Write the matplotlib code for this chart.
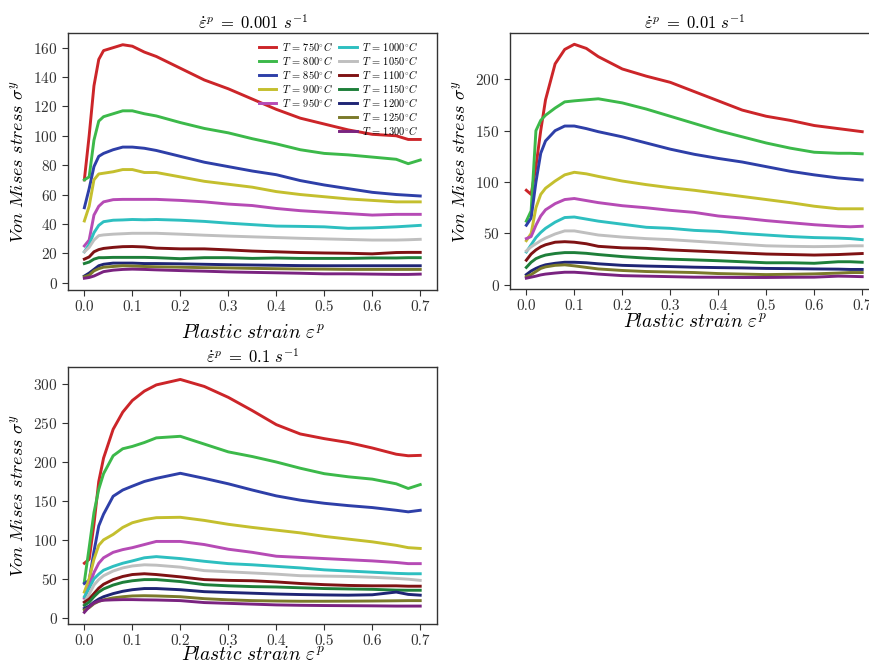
import matplotlib
matplotlib.use("Agg")
import matplotlib.pyplot as plt
from matplotlib.lines import Line2D

plt.rcParams["font.family"] = "serif"
plt.rcParams["font.serif"] = ["cmr10"]
plt.rcParams["mathtext.fontset"] = "cm"
plt.rcParams["axes.formatter.use_mathtext"] = True

# strain grid shared by all curves
STRAIN = [0, 0.01, 0.02, 0.03, 0.04, 0.06, 0.08, 0.1, 0.125, 0.15, 0.2, 0.25,
          0.3, 0.35, 0.4, 0.45, 0.5, 0.55, 0.6, 0.65, 0.675, 0.7]

TEMPS = [750, 800, 850, 900, 950, 1000, 1050, 1100, 1150, 1200, 1250, 1300]

# rate 0.001 1/s
STRESS_001 = [
    [70, 100, 134, 152, 158, 160, 162, 161, 157, 154, 146, 138, 132, 125, 118, 112, 108, 104, 101, 100, 97.5, 97.5],
    [70, 72, 97, 110, 113, 115, 117, 117, 115, 113.5, 109, 105, 102, 98, 94.5, 90.5, 88, 87, 85.5, 84, 81, 83.5],
    [51, 64, 79, 86, 88, 90.5, 92.3, 92.3, 91.5, 90, 86, 82, 79, 76, 73.5, 69.5, 66.5, 64, 61.5, 60, 59.5, 59],
    [42, 52, 70, 74, 74.5, 75.5, 77, 77, 75, 75, 72, 69, 67, 65, 62, 60, 58.5, 57, 56, 55, 55, 55],
    [25, 29, 46, 52, 55, 56.5, 56.7, 56.7, 56.7, 56.7, 56, 55, 53.5, 52.5, 50.5, 49, 48, 47, 46, 46.5, 46.5, 46.5],
    [21, 26, 34, 39, 41.5, 42.5, 42.7, 43, 42.8, 43, 42.5, 41.7, 40.5, 39.5, 38.5, 38.3, 38, 37, 37.3, 38, 38.5, 39],
    [21, 24, 29, 32, 32.5, 33, 33.3, 33.6, 33.6, 33.6, 33, 32.3, 31.7, 31.2, 30.7, 30.2, 29.8, 29.4, 29, 29, 29.2, 29.5],
    [16, 17.5, 21, 22.5, 23.3, 24, 24.5, 24.6, 24.3, 23.5, 23, 23, 22.3, 21.5, 21, 20.5, 20.2, 20, 19.6, 20.5, 20.6, 20.6],
    [13, 14, 16, 17, 17, 17.2, 17.2, 17.2, 17.2, 17, 16.3, 17, 17, 16.5, 16.8, 16.5, 16.5, 16.5, 16.8, 16.8, 17, 17],
    [4.5, 6.5, 9, 11.5, 12.5, 13.3, 13.3, 13.3, 13, 13, 12.8, 12.5, 12.2, 12, 11.8, 11.6, 11.5, 11.5, 11.5, 11.5, 11.5, 11.5],
    [4, 5, 8, 9.5, 10.5, 11, 11.5, 11.3, 11, 10.8, 10.5, 10.2, 10, 9.7, 9.5, 9.3, 9.2, 9, 9, 9, 9, 9],
    [3, 3.5, 4.5, 6, 7.5, 8.5, 9, 9.2, 9, 8.7, 8.2, 7.8, 7.3, 7, 6.7, 6.4, 6, 6, 5.8, 5.6, 5.6, 5.8],
]

# rate 0.01 1/s
STRESS_01 = [
    [92, 88, 115, 150, 180, 215, 229, 234, 230, 222, 210, 203, 197, 188, 179, 170, 164, 160, 155, 152, 150.5, 149],
    [62, 72, 150, 160, 165, 172, 178, 179, 180, 181, 177, 171, 164, 157, 150, 144, 138, 133, 129, 128, 128, 127.5],
    [58, 65, 100, 128, 140, 150, 154.5, 154.5, 152, 149, 144, 138, 132, 127, 123, 119.5, 115, 110.5, 107, 104, 103, 102],
    [43, 50, 75, 88, 94, 101, 107, 109.5, 108, 105.5, 101, 97.5, 94.5, 92, 89, 86, 83, 80, 76.5, 74, 74, 74],
    [45, 47, 58, 67, 73, 79, 83, 84, 82, 80, 77, 75, 72.5, 70.5, 67, 65, 62.5, 60.5, 58.5, 57, 56.5, 57],
    [32, 39, 46, 51, 55, 61, 65.5, 66, 64, 62, 59, 56, 55, 53, 52, 50, 48.5, 47, 46, 45.5, 45, 44],
    [33, 37, 40, 43, 45.5, 49.5, 52.5, 52.5, 50.5, 48.5, 46.5, 45, 44, 42.5, 41, 39.5, 38, 37.5, 37.2, 37.5, 38, 38],
    [24, 30, 34, 37, 39, 41.5, 42, 41.5, 40, 37.5, 36, 35.5, 34, 33, 32, 31, 30, 29.5, 29, 29.5, 30, 30.5],
    [17, 22, 25.5, 27.5, 29, 30.5, 31.4, 31.4, 30.7, 29.5, 27.5, 26, 25, 24.3, 23.5, 22.5, 21.5, 21.5, 21, 22.5, 22.5, 22],
    [10, 13.5, 16, 18, 19.5, 21, 22, 22, 21.5, 20.5, 19, 18.3, 17.8, 17.2, 16.8, 16.5, 16, 15.8, 15.5, 15.3, 15, 15],
    [8, 10, 13, 16, 17.5, 19, 19.5, 18.5, 17, 15.5, 14, 13, 12.5, 12, 11, 10.5, 10, 10.3, 10.7, 11.5, 12, 12],
    [6.5, 7.5, 8.5, 9.7, 10.5, 11.5, 12.3, 12.3, 11.5, 10.5, 9, 8.5, 8, 7.5, 7.4, 7.2, 7.2, 7.4, 7.5, 8.5, 8.3, 8],
]

# rate 0.1 1/s
STRESS_1 = [
    [70, 75, 120, 175, 205, 242, 264, 279, 291, 299, 306, 297, 283, 266, 248, 236, 230, 225, 218, 210, 208, 208.5],
    [46, 90, 135, 165, 185, 208, 217, 220, 225, 231, 233, 223, 213, 207, 200, 192, 185, 181, 178, 172, 166, 171],
    [44, 48, 85, 118, 133, 156, 164, 169, 175, 179, 185.5, 179, 172, 164, 156.5, 151, 147, 144, 141.5, 138, 136, 138],
    [33, 50, 75, 93, 100, 107, 116, 122, 126, 128.5, 129, 125, 120, 116, 112.5, 109, 104.5, 101, 97.5, 93, 90, 89],
    [25, 40, 58, 70, 77, 84, 87.5, 90, 94, 98, 98, 94, 88, 84, 79, 77.5, 76, 74.5, 73, 71, 69.5, 69.5],
    [27, 38, 50, 56, 61, 66, 70, 73, 77, 78.5, 76, 72.5, 69.5, 68, 66, 64, 61.5, 60, 58.5, 57, 56.5, 56.5],
    [20, 30, 42, 49, 54, 60, 64, 66.5, 68, 67.5, 65, 60.5, 59, 57.5, 56, 54, 53.5, 53, 52, 50.5, 49.5, 48],
    [20, 24, 31, 38, 43, 49, 53, 55.5, 56.5, 55.5, 52.5, 49, 48, 47.5, 46, 44, 42.5, 41.5, 41, 41, 40.5, 40.5],
    [16, 20, 27, 33, 37, 42, 45.5, 47.5, 49, 49, 46.5, 42.5, 41, 40, 39.5, 38.5, 37.5, 37, 36.5, 35.5, 35.3, 35.3],
    [12, 15, 20, 24, 27, 31, 34, 36, 37.5, 37.5, 36, 33.5, 32.5, 31.5, 30.5, 29.8, 29.3, 29, 29.5, 33, 30, 29],
    [10, 13, 18, 21, 23, 25.5, 27, 28, 28.3, 28, 27, 24.5, 23, 22, 21.5, 21.2, 21.2, 21.3, 21.5, 21.8, 22, 22],
    [7, 14, 19, 21.5, 22.5, 23, 23.3, 23.3, 23, 22.8, 22, 19.5, 18.5, 17.5, 16.5, 16, 15.7, 15.5, 15.3, 15, 15, 15],
]

COLORS = ["#cc2529", "#3cb94a", "#2e3fa8", "#c4bf2e", "#b64bb5", "#2ebfc0",
          "#bfbfbf", "#7f1214", "#1e7f3a", "#1f2575", "#7b7a2a", "#7a2380"]

XTICKS = [0, 0.1, 0.2, 0.3, 0.4, 0.5, 0.6, 0.7]


def style_axes(ax, ylim, yticks, xlabelpad):
    ax.set_xlim(-0.034, 0.735)
    ax.set_ylim(*ylim)
    ax.set_xticks(XTICKS)
    ax.set_xticklabels([f"{v:.1f}" for v in XTICKS])
    ax.set_yticks(yticks)
    ax.tick_params(direction="out", length=4, width=0.8, labelsize=11,
                   top=False, right=False, colors="#333333")
    for s in ax.spines.values():
        s.set_linewidth(1.0)
        s.set_color("#333333")
    ax.set_xlabel(r"$Plastic\ strain\ \varepsilon^p$", fontsize=14, labelpad=xlabelpad)
    ax.set_ylabel(r"$Von\ Mises\ stress\ \sigma^y$", fontsize=13, labelpad=4)


fig = plt.figure(figsize=(8.69, 6.61), dpi=100)
ax1 = fig.add_axes([0.0783, 0.5613, 0.4246, 0.3888])
ax2 = fig.add_axes([0.5869, 0.5628, 0.4246, 0.3873])
ax3 = fig.add_axes([0.0783, 0.0560, 0.4246, 0.3888])

panels = [
    (ax1, STRESS_001, r"$\dot{\varepsilon}^p\; =\; 0.001\ s^{-1}$", (-5, 170), range(0, 161, 20), 7),
    (ax2, STRESS_01, r"$\dot{\varepsilon}^p\; =\; 0.01\ s^{-1}$", (-4, 245), range(0, 201, 50), 0),
    (ax3, STRESS_1, r"$\dot{\varepsilon}^p\; =\; 0.1\ s^{-1}$", (-8, 322), range(0, 301, 50), -1.5),
]

for ax, data, title, ylim, yticks, pad in panels:
    for temp, col, vals in zip(TEMPS, COLORS, data):
        ax.plot(STRAIN, vals, color=col, lw=2.1,
                label=rf"$T\,=\,{temp}^{{\circ}}C$")
    ax.set_title(title, fontsize=12, pad=3)
    style_axes(ax, ylim, yticks, pad)

# legend: 5 entries in first column, 7 in second (pad with blanks)
handles, labels = ax1.get_legend_handles_labels()
blank = Line2D([], [], linestyle="none")
h = handles[:5] + [blank] * 2 + handles[5:]
l = labels[:5] + [""] * 2 + labels[5:]
ax1.legend(h, l, ncol=2, frameon=False, fontsize=7.5, loc="upper right",
           bbox_to_anchor=(0.975, 1.01), handlelength=1.7, labelspacing=0.1,
           columnspacing=0.6, handletextpad=0.5)

fig.savefig("out.png", dpi=100)
